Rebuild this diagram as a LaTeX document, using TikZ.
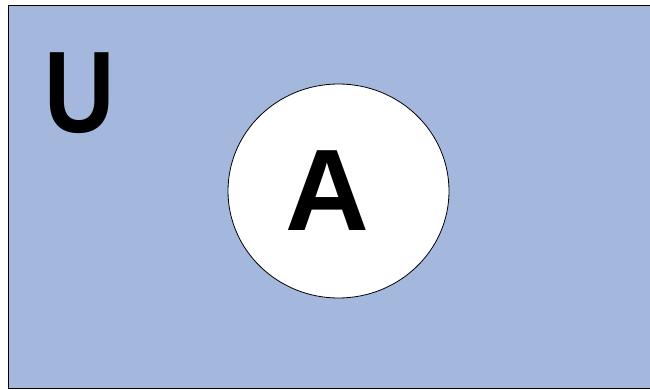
\documentclass[tikz,border=0pt]{standalone}
\usepackage{fontspec}
\setmainfont{Liberation Sans}
\definecolor{universe}{RGB}{164,183,221}
\begin{document}
\begin{tikzpicture}[x=1pt,y=-1pt,
  setlabel/.style={font=\fontsize{116}{116}\selectfont\bfseries,inner sep=0pt,anchor=center},
  setshape/.style={draw=black,line width=0.8pt}]
\useasboundingbox (0,0) rectangle (650,390);
% universe and set A
\draw[setshape,fill=universe] (8.5,5.5) rectangle (652,388.5);
\draw[setshape,fill=white] (338.5,191) ellipse [x radius=110.5,y radius=107];
\node[setlabel,xscale=0.84] (U) at (80,93.5) {U};
\node[setlabel] (A) at (327.5,190.5) {A};
\end{tikzpicture}
\end{document}
